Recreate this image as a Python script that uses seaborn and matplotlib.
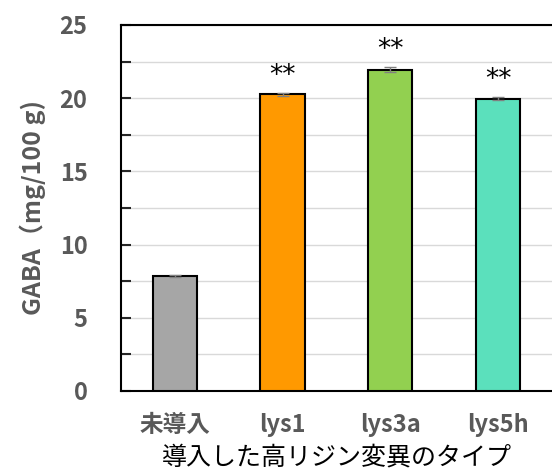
import numpy as np
import pandas as pd
import seaborn as sns
import matplotlib.pyplot as plt
from matplotlib.ticker import MultipleLocator

# データ
strains = ["未導入", "lys1", "lys3a", "lys5h"]
gaba = [7.85, 20.25, 21.95, 19.95]
err = [0.08, 0.08, 0.15, 0.10]
marks = ["", "**", "**", "**"]
colors = ["#A6A6A6", "#FF9900", "#92D050", "#5BE0BC"]

df = pd.DataFrame({"strain": strains, "gaba": gaba})

sns.set_style("white")
plt.rcParams['font.family'] = ['Noto Sans CJK JP', 'DejaVu Sans']

fig = plt.figure(figsize=(5.52, 4.71), dpi=100)
ax = fig.add_axes([0.219, 0.170, 0.781, 0.777])

sns.barplot(data=df, x="strain", y="gaba", hue="strain", palette=colors, saturation=1,
            width=0.41, edgecolor="black", linewidth=1.5, legend=False, ax=ax, zorder=3)
ax.errorbar(np.arange(len(strains)), gaba, yerr=err, fmt="none",
            ecolor="#808080", elinewidth=1, capsize=4, capthick=1, zorder=4)

for i, (v, e, m) in enumerate(zip(gaba, err, marks)):
    if m:
        ax.text(i, v + e + 0.3, m, ha="center", va="bottom", fontsize=19,
                color="black", family=['DejaVu Sans'])

ax.set_xlim(-0.5, 3.5)
ax.set_ylim(0, 25)
ax.yaxis.set_major_locator(MultipleLocator(5))
ax.yaxis.set_minor_locator(MultipleLocator(2.5))
ax.grid(axis="y", which="both", color="#D9D9D9", linewidth=1, zorder=0)
ax.tick_params(axis="y", which="both", direction="in", length=7, width=1.5,
               left=True, labelsize=17, labelcolor="#595959", pad=24)
ax.tick_params(axis="x", length=0, labelsize=17, labelcolor="#595959", pad=16)
for lab in ax.get_yticklabels() + ax.get_xticklabels():
    lab.set_fontweight("bold")

for side in ["left", "bottom", "top"]:
    ax.spines[side].set_visible(True)
    ax.spines[side].set_color("black")
    ax.spines[side].set_linewidth(1.5)
ax.spines["right"].set_visible(False)

ax.set_ylabel("GABA（mg/100 g)", fontsize=18, fontweight="bold", color="#595959", labelpad=10)
ax.set_xlabel("")
fig.text(0.61, 0.002, "導入した高リジン変異のタイプ", ha="center", va="bottom",
         fontsize=18, color="black")

fig.savefig("out.png", dpi=100)
